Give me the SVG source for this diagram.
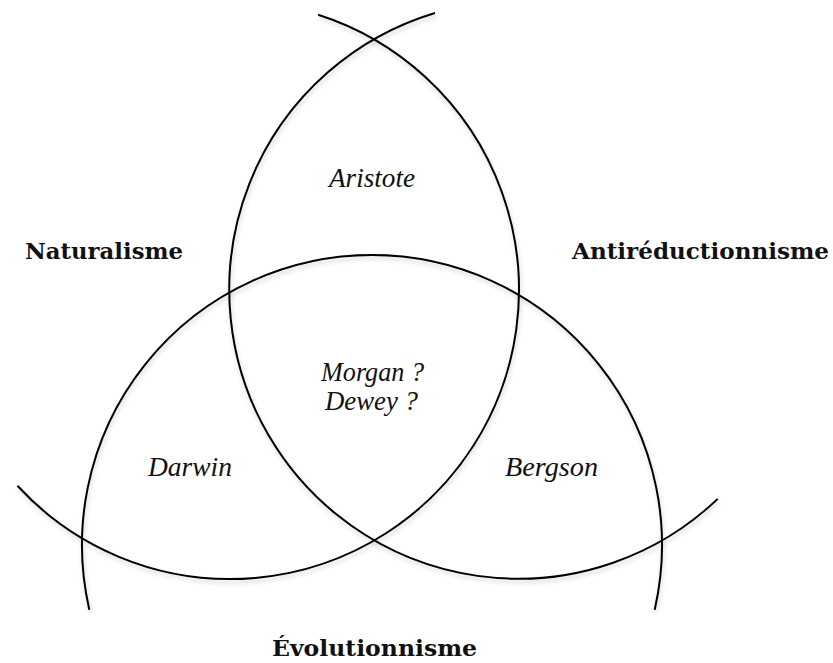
<svg xmlns="http://www.w3.org/2000/svg" width="833" height="663" viewBox="0 0 833 663">
  <defs>
    <filter id="shadow" x="-10%" y="-10%" width="120%" height="120%">
      <feDropShadow dx="1" dy="3" stdDeviation="2" flood-color="#000" flood-opacity="0.18"/>
    </filter>
  </defs>
  <style>
    .arc { fill: none; stroke: #000; stroke-width: 2; filter: url(#shadow); }
    .set { font-family: "DejaVu Serif", "Liberation Serif", serif; font-weight: bold; font-size: 23px; fill: #111; }
    .name { font-family: "Liberation Serif", "Times New Roman", serif; font-style: italic; font-size: 27px; fill: #111; text-anchor: middle; }
  </style>
  <rect width="833" height="663" fill="#fff"/>

  <g id="circle-antireductionnisme">
    <path class="arc" d="M435,13 A289,289 0 1 0 717.7,498.9"/>
  </g>
  <g id="circle-naturalisme">
    <path class="arc" d="M318.2,14.8 A289,289 0 1 1 17.4,485.8"/>
  </g>
  <g id="circle-evolutionnisme">
    <path class="arc" d="M89.3,609.7 A290,290 0 1 1 654.7,609.7"/>
  </g>

  <g id="set-labels">
    <text class="set" x="25" y="259" textLength="158" lengthAdjust="spacingAndGlyphs">Naturalisme</text>
    <text class="set" x="572" y="259" textLength="257" lengthAdjust="spacingAndGlyphs">Antiréductionnisme</text>
    <text class="set" x="272" y="656" textLength="205" lengthAdjust="spacingAndGlyphs">Évolutionnisme</text>
  </g>

  <g id="region-aristote"><text class="name" x="372" y="187" textLength="86" lengthAdjust="spacingAndGlyphs">Aristote</text></g>
  <g id="region-center">
    <text class="name" x="372.5" y="381" textLength="103" lengthAdjust="spacingAndGlyphs">Morgan ?</text>
    <text class="name" x="371.5" y="410" textLength="93" lengthAdjust="spacingAndGlyphs">Dewey ?</text>
  </g>
  <g id="region-darwin"><text class="name" x="190" y="476" textLength="84" lengthAdjust="spacingAndGlyphs">Darwin</text></g>
  <g id="region-bergson"><text class="name" x="551.5" y="476" textLength="93" lengthAdjust="spacingAndGlyphs">Bergson</text></g>
</svg>
